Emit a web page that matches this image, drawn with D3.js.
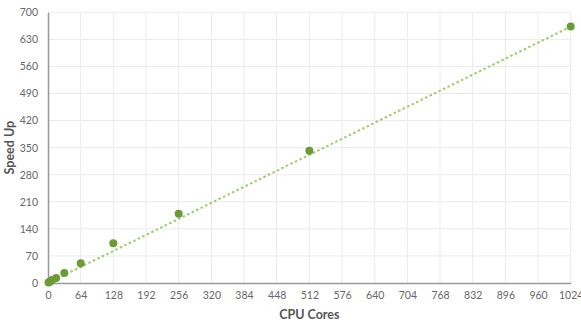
<!DOCTYPE html>
<html><head><meta charset="utf-8">
<script src="https://cdn.jsdelivr.net/npm/d3@7"></script>
<style>body{margin:0;background:#fff;}svg{display:block;font-family:Lato,"Open Sans",sans-serif;}</style>
</head><body><svg id="c" width="581" height="323"></svg>
<script>
const cores = [1, 2, 4, 8, 16, 32, 64, 128, 256, 512, 1024];
const speedup = [1, 2, 4, 8, 13, 26, 51, 103, 179, 342, 663];
const trendX = [0, 1024];
const trendY = [0, 663];
const xTicks = [0,64,128,192,256,320,384,448,512,576,640,704,768,832,896,960,1024];
const yTicks = [0,70,140,210,280,350,420,490,560,630,700];

const svg = d3.select("#c");
const m = {l:48, r:10.3, t:12.3, b:40};
const W = 581, H = 323;
const x = d3.scaleLinear().domain([0,1024]).range([m.l, W-m.r]);
const y = d3.scaleLinear().domain([0,700]).range([H-m.b, m.t]);

// grid
svg.append("g").selectAll("line").data(xTicks.slice(1)).join("line")
  .attr("x1",d=>x(d)).attr("x2",d=>x(d)).attr("y1",y(0)).attr("y2",y(700))
  .attr("stroke","#ebebeb").attr("stroke-width",1);
svg.append("g").selectAll("line").data(yTicks.slice(1)).join("line")
  .attr("x1",x(0)).attr("x2",x(1024)).attr("y1",d=>y(d)).attr("y2",d=>y(d))
  .attr("stroke","#ebebeb").attr("stroke-width",1);

// axes
const xa = svg.append("g").attr("transform",`translate(0,${y(0)})`)
  .call(d3.axisBottom(x).tickValues(xTicks).tickFormat(d3.format("d")).tickSize(0).tickPadding(9));
const ya = svg.append("g").attr("transform",`translate(${x(0)},0)`)
  .call(d3.axisLeft(y).tickValues(yTicks).tickFormat(d3.format("d")).tickSize(0).tickPadding(10));
[xa,ya].forEach(a=>{
  a.select(".domain").attr("stroke","#999").attr("stroke-width",1.5);
  a.selectAll("text").attr("fill","#666").style("font-size","10.5px").style("font-family","Lato,'Open Sans',sans-serif");
});

// trend line
svg.append("path")
  .datum(trendX.map((d,i)=>[d,trendY[i]]))
  .attr("d", d3.line().x(d=>x(d[0])).y(d=>y(d[1])))
  .attr("fill","none").attr("stroke","#9ccc65").attr("stroke-width",2)
  .attr("stroke-dasharray","2.5,2.5");

// points
svg.append("g").selectAll("circle").data(cores).join("circle")
  .attr("cx",(d)=>x(d)).attr("cy",(d,i)=>y(speedup[i])).attr("r",4)
  .attr("fill","#6b9b37");

// titles
svg.append("text").attr("x",(x(0)+x(1024))/2).attr("y",319)
  .attr("text-anchor","middle").attr("fill","#555").style("font-size","12.5px").style("font-weight","bold")
  .text("CPU Cores");
svg.append("text").attr("transform",`translate(14,${(y(0)+y(700))/2}) rotate(-90)`)
  .attr("text-anchor","middle").attr("fill","#555").style("font-size","12.5px").style("font-weight","bold")
  .text("Speed Up");
</script></body></html>
